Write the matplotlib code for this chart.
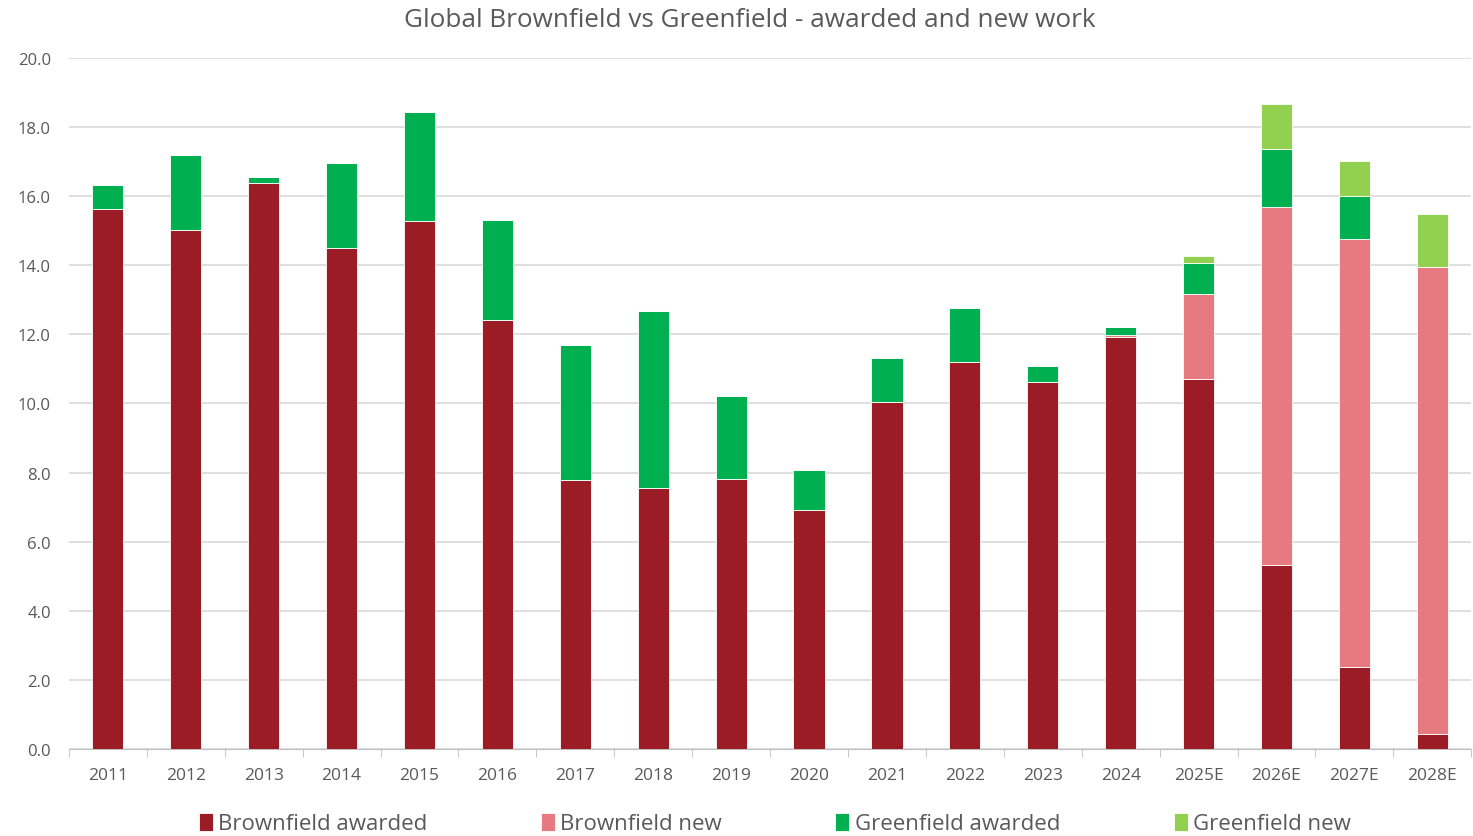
import numpy as np
import matplotlib.pyplot as plt

years = ["2011", "2012", "2013", "2014", "2015", "2016", "2017", "2018", "2019",
         "2020", "2021", "2022", "2023", "2024", "2025E", "2026E", "2027E", "2028E"]
bf_awarded = [15.63, 15.02, 16.38, 14.50, 15.28, 12.42, 7.79, 7.55, 7.81,
              6.92, 10.04, 11.20, 10.62, 11.92, 10.71, 5.33, 2.37, 0.43]
bf_new = [0, 0, 0, 0, 0, 0, 0, 0, 0,
          0, 0, 0, 0, 0.06, 2.46, 10.36, 12.39, 13.52]
gf_awarded = [0.69, 2.17, 0.18, 2.46, 3.16, 2.89, 3.90, 5.13, 2.41,
              1.16, 1.28, 1.56, 0.47, 0.23, 0.90, 1.68, 1.24, 0]
gf_new = [0, 0, 0, 0, 0, 0, 0, 0, 0,
          0, 0, 0, 0, 0, 0.20, 1.30, 1.02, 1.53]

plt.rcParams['font.family'] = ['Open Sans', 'DejaVu Sans']

fig = plt.figure(figsize=(14.73, 8.37), dpi=100)
ax = fig.add_axes([0.0468, 0.104, 0.952, 0.8255])

x = np.arange(len(years))
w = 0.4
b1 = np.array(bf_awarded)
b2 = b1 + np.array(bf_new)
b3 = b2 + np.array(gf_awarded)

kw = dict(width=w, edgecolor='white', linewidth=0.6, zorder=3)
ax.bar(x, bf_awarded, color='#9B1C24', label='Brownfield awarded', **kw)
ax.bar(x, bf_new, bottom=b1, color='#E67A80', label='Brownfield new', **kw)
ax.bar(x, gf_awarded, bottom=b2, color='#00B050', label='Greenfield awarded', **kw)
ax.bar(x, gf_new, bottom=b3, color='#92D050', label='Greenfield new', **kw)

ax.set_xlim(-0.5, len(years) - 0.5)
ax.set_ylim(0, 20)
ax.set_yticks(np.arange(0, 20.1, 2))
ax.set_yticklabels([f"{v:.1f}" for v in np.arange(0, 20.1, 2)])
ax.yaxis.grid(True, color='#D9D9D9', linewidth=1.2, zorder=0)
ax.tick_params(axis='y', length=0, labelsize=12, labelcolor='#595959', pad=13)

ax.set_xticks(x)
ax.set_xticklabels(years)
ax.set_xticks(np.arange(-0.5, len(years), 1), minor=True)
ax.tick_params(axis='x', which='major', length=0, labelsize=12.5, labelcolor='#595959', pad=13)
ax.tick_params(axis='x', which='minor', length=6, color='#BFBFBF')

for s in ['top', 'right', 'left']:
    ax.spines[s].set_visible(False)
ax.spines['bottom'].set_color('#BFBFBF')

fig.suptitle('Global Brownfield vs Greenfield - awarded and new work',
             fontsize=18.8, color='#595959', x=0.509, y=0.99)

fig.legend(loc='lower center', ncol=4, bbox_to_anchor=(0.526, -0.022), frameon=False,
           fontsize=16, labelcolor='#595959', handlelength=0.63, handleheight=0.85,
           handletextpad=0.25, columnspacing=5.1)

fig.savefig('out.png', dpi=100)
